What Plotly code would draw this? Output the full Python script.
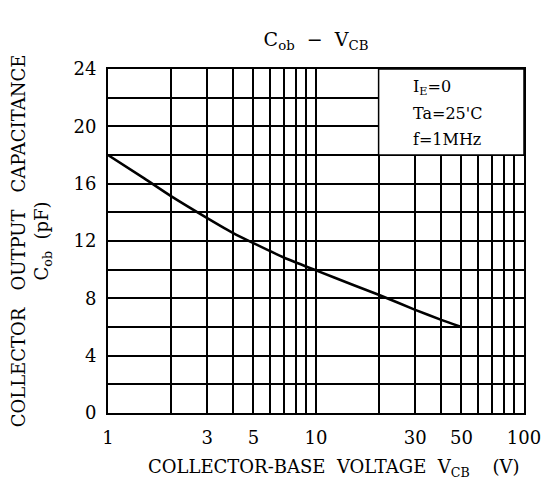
import math
import plotly.graph_objects as go

# Data
vcb = [1, 1.5, 2, 3, 4, 5, 7, 10, 15, 20, 30, 40, 50]
cob = [18.0, 16.35, 15.15, 13.6, 12.55, 11.85, 10.85, 9.95, 8.95, 8.25, 7.2, 6.5, 6.0]

x_grid = [1, 2, 3, 4, 5, 6, 7, 8, 9, 10, 20, 30, 40, 50, 60, 70, 80, 90, 100]
x_labeled = {1: "1", 3: "3", 5: "5", 10: "10", 30: "30", 50: "50", 100: "100"}
y_grid = list(range(0, 25, 2))
y_labeled = {0: "0", 4: "4", 8: "8", 12: "12", 16: "16", 20: "20", 24: "24"}

cond_lines = ["I<sub>E</sub>=0", "Ta=25'C", "f=1MHz"]
cond_y = [22.7, 20.9, 19.1]
box_x = (20, 100)
box_y = (18, 24)

FONT = "DejaVu Serif"
# page body adds an 8px offset; margins compensate
L, R, T, B = 100, 37, 61, 93
W, H = 553, 498
PW = W - L - R

fig = go.Figure()
fig.add_trace(go.Scatter(x=vcb, y=cob, mode="lines",
                         line=dict(color="black", width=2.5, shape="spline", smoothing=0.6),
                         showlegend=False, hoverinfo="skip"))

fig.add_shape(type="rect", xref="x", yref="y",
              x0=box_x[0], x1=box_x[1], y0=box_y[0], y1=box_y[1],
              fillcolor="white", line=dict(color="black", width=1.5), layer="above")

for txt, yy in zip(cond_lines, cond_y):
    fig.add_annotation(xref="x", yref="y", x=math.log10(28.5), y=yy, xanchor="left", yanchor="middle",
                       text=txt, showarrow=False, align="left",
                       font=dict(family=FONT, size=16, color="black"))

# x-axis title (placed as in the reference, slightly right of center)
fig.add_annotation(xref="paper", yref="paper", x=(514 - L) / PW, y=-(460 - (H - B)) / (H - T - B),
                   xanchor="right", yanchor="middle", showarrow=False,
                   text="COLLECTOR-BASE  VOLTAGE  V<sub>CB</sub>    (V)",
                   font=dict(family=FONT, size=18, color="black"))

fig.update_layout(
    width=W, height=H,
    margin=dict(l=L, r=R, t=T, b=B),
    paper_bgcolor="white", plot_bgcolor="white",
    font=dict(family=FONT, color="black"),
    title=dict(text="C<sub>ob</sub>  −  V<sub>CB</sub>", x=(L + W - R) / 2 / W, xanchor="center",
               y=1 - 31 / H, yanchor="middle", font=dict(family=FONT, size=19, color="black")),
)

fig.update_xaxes(
    type="log", range=[0, 2], automargin=False,
    tickvals=x_grid, ticktext=[x_labeled.get(v, "") for v in x_grid],
    tickfont=dict(family=FONT, size=18, color="black"),
    ticks="", ticklabelstandoff=7,
    showgrid=True, gridcolor="black", gridwidth=1.5,
    showline=True, linecolor="black", linewidth=2, mirror=True,
    zeroline=False,
)
fig.update_yaxes(
    range=[0, 24], automargin=False,
    tickvals=y_grid, ticktext=[y_labeled.get(v, "") for v in y_grid],
    tickfont=dict(family=FONT, size=18, color="black"),
    ticks="", ticklabelstandoff=6,
    showgrid=True, gridcolor="black", gridwidth=1.5,
    showline=True, linecolor="black", linewidth=2, mirror=True,
    zeroline=False,
    title=dict(text="COLLECTOR   OUTPUT   CAPACITANCE<br>C<sub>ob</sub>  (pF)", standoff=30,
               font=dict(family=FONT, size=18, color="black")),
)

fig.write_html("out.html")
